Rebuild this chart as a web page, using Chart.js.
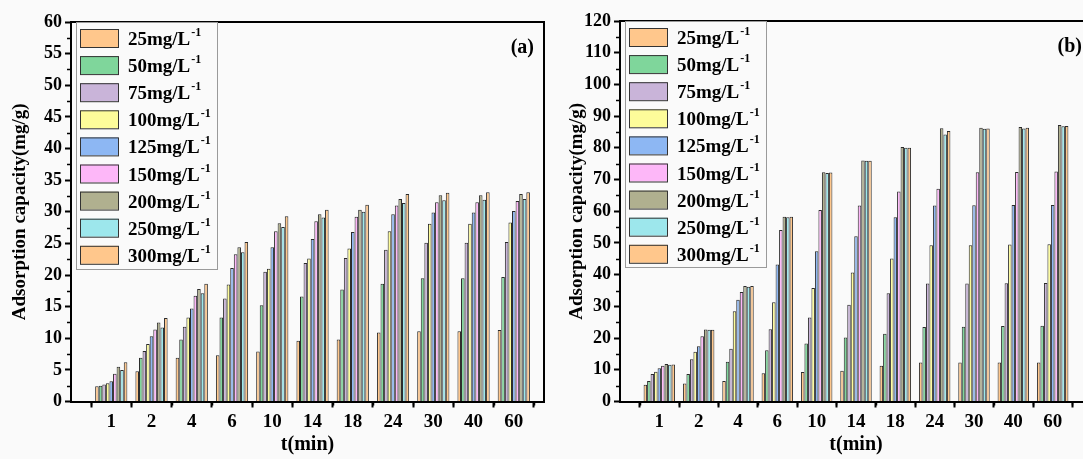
<!DOCTYPE html>
<html>
<head>
<meta charset="utf-8">
<script src="https://cdn.jsdelivr.net/npm/chart.js@4.4.1/dist/chart.umd.min.js"></script>
<style>
  html, body { margin: 0; padding: 0; background: #fafafa; }
  body { width: 1083px; height: 459px; overflow: hidden; position: relative; }
  canvas { position: absolute; top: 0; }
  #chartA { left: 0; }
  #chartB { left: 555px; }
</style>
</head>
<body>
<canvas id="chartA" width="560" height="459"></canvas>
<canvas id="chartB" width="560" height="459"></canvas>
<script>
// contact time (min) - categories on the x axis
const times = ["1", "2", "4", "6", "10", "14", "18", "24", "30", "40", "60"];
const concLabels = ["25mg/L", "50mg/L", "75mg/L", "100mg/L", "125mg/L", "150mg/L", "200mg/L", "250mg/L", "300mg/L"];
const colors = ["#ffc78c", "#7fd69b", "#c9b4d9", "#fdfc9a", "#8db7f3", "#fdb7f8", "#b0b08f", "#9de7ec", "#ffc78c"];

// panel (a), adsorption capacity mg/g
const a25  = [2.4, 4.8, 6.9, 7.3, 7.9, 9.6, 9.8, 10.9, 11.1, 11.1, 11.3];
const a50  = [2.5, 6.9, 9.8, 13.3, 15.2, 16.6, 17.7, 18.6, 19.5, 19.5, 19.7];
const a75  = [2.7, 8.0, 11.8, 16.3, 20.5, 21.9, 22.7, 24.0, 25.1, 25.1, 25.2];
const a100 = [2.9, 9.1, 13.3, 18.5, 21.0, 22.6, 24.2, 26.9, 28.1, 28.1, 28.3];
const a125 = [3.2, 10.3, 14.7, 21.1, 24.4, 25.7, 26.8, 29.6, 29.9, 29.9, 30.1];
const a150 = [4.4, 11.4, 16.7, 23.3, 26.9, 28.5, 29.2, 31.0, 31.5, 31.5, 31.7];
const a200 = [5.5, 12.5, 17.8, 24.4, 28.2, 29.6, 30.3, 32.0, 32.6, 32.6, 32.8];
const a250 = [5.0, 11.7, 17.1, 23.6, 27.6, 29.1, 30.0, 31.4, 31.8, 31.9, 32.0];
const a300 = [6.2, 13.2, 18.6, 25.2, 29.3, 30.3, 31.1, 32.8, 33.0, 33.1, 33.1];

// panel (b)
const b25  = [5.3, 5.7, 6.5, 8.9, 9.3, 9.7, 11.3, 12.3, 12.3, 12.3, 12.3];
const b50  = [6.5, 8.7, 12.5, 16.2, 18.3, 20.2, 21.4, 23.5, 23.6, 23.8, 23.9];
const b75  = [8.7, 13.3, 16.6, 22.8, 26.5, 30.5, 34.1, 37.2, 37.2, 37.3, 37.4];
const b100 = [9.4, 15.7, 28.5, 31.3, 35.8, 40.7, 45.1, 49.3, 49.3, 49.5, 49.6];
const b125 = [10.5, 17.4, 32.1, 43.2, 47.4, 52.1, 58.1, 61.8, 61.9, 62.0, 62.0];
const b150 = [11.3, 20.6, 34.5, 54.1, 60.4, 61.8, 66.2, 67.1, 72.3, 72.4, 72.5];
const b200 = [11.8, 22.7, 36.4, 58.3, 72.3, 76.0, 80.3, 86.2, 86.3, 86.6, 87.2];
const b250 = [11.6, 22.6, 36.2, 58.1, 72.1, 75.9, 80.0, 84.2, 86.0, 86.1, 86.8];
const b300 = [11.7, 22.6, 36.4, 58.3, 72.2, 75.9, 80.0, 85.3, 86.1, 86.3, 86.9];

const FONT = "'Liberation Serif', 'Times New Roman', serif";

// frame, minor ticks, legend box and panel tag
const decor = {
  id: "decor",
  afterDraw(chart, args, opts) {
    const ctx = chart.ctx;
    const ca = chart.chartArea;
    const xs = chart.scales.x, ys = chart.scales.y;
    ctx.save();
    ctx.strokeStyle = "#000";
    ctx.lineWidth = 2;
    ctx.beginPath();
    ctx.moveTo(ca.left, ca.top);
    ctx.lineTo(ca.right, ca.top);
    ctx.lineTo(ca.right, ca.bottom);
    ctx.stroke();

    // minor ticks
    ctx.lineWidth = 1.5;
    ctx.beginPath();
    for (let v = opts.yStep / 2; v < ys.max; v += opts.yStep) {
      const y = Math.round(ys.getPixelForValue(v)) + 0.5;
      ctx.moveTo(ca.left - 4, y);
      ctx.lineTo(ca.left, y);
    }
    for (let v = 0.5; v < xs.max; v += 1) {
      const x = Math.round(xs.getPixelForValue(v)) + 0.5;
      ctx.moveTo(x, ca.bottom);
      ctx.lineTo(x, ca.bottom + 4);
    }
    ctx.stroke();

    // legend
    const bx = ca.left + 5, by = ca.top;
    ctx.fillStyle = "#fafafa";
    ctx.fillRect(bx, by, 141, opts.legendH);
    ctx.strokeStyle = "#9a9a9a";
    ctx.lineWidth = 1;
    ctx.strokeRect(bx + 0.5, by + 0.5, 141, opts.legendH);
    chart.data.datasets.forEach((ds, i) => {
      const sy = by + 7 + i * 27.1;
      ctx.fillStyle = ds.backgroundColor;
      ctx.fillRect(bx + 4, sy, 38, 18);
      ctx.strokeStyle = "#333";
      ctx.strokeRect(bx + 4.5, sy + 0.5, 38, 18);
      ctx.fillStyle = "#000";
      ctx.textBaseline = "alphabetic";
      ctx.textAlign = "left";
      ctx.font = "bold 19px " + FONT;
      ctx.fillText(ds.label, bx + 52, sy + 16);
      const w = ctx.measureText(ds.label).width;
      ctx.font = "bold 12px " + FONT;
      ctx.fillText("-1", bx + 52 + w + 1, sy + 7);
    });

    ctx.font = "bold 20px " + FONT;
    ctx.textAlign = "right";
    ctx.textBaseline = "middle";
    ctx.fillStyle = "#000";
    ctx.fillText(opts.tag, ca.right - opts.tagInset, ca.top + 26);
    ctx.restore();
  }
};

function makePanel(id, series, yMax, yStep, xMax, axisW, pad, titlePad, tag, tagInset, legendH) {
  const datasets = series.map((vals, i) => ({
    label: concLabels[i],
    data: vals.map((v, j) => ({ x: j + 1, y: v })),
    backgroundColor: colors[i],
    borderColor: "#2a2a2a",
    borderWidth: 1,
    categoryPercentage: 0.8,
    barPercentage: 1.0
  }));

  return new Chart(document.getElementById(id), {
    type: "bar",
    data: { datasets },
    plugins: [decor],
    options: {
      responsive: false,
      animation: false,
      layout: { padding: pad },
      plugins: {
        legend: { display: false },
        tooltip: { enabled: false },
        decor: { yStep, tag, tagInset, legendH }
      },
      scales: {
        x: {
          type: "linear",
          min: 0,
          max: xMax,
          offset: false,
          afterBuildTicks: s => { s.ticks = times.map((t, i) => ({ value: i + 1 })); },
          afterFit: s => { s.height = 57.5; },
          ticks: {
            callback: v => times[v - 1],
            color: "#000",
            padding: 3,
            maxRotation: 0,
            autoSkip: false,
            font: { family: FONT, size: 19, weight: "bold" }
          },
          grid: { drawOnChartArea: false, tickLength: 6, tickColor: "#000", tickWidth: 2 },
          border: { color: "#000", width: 2 },
          title: {
            display: true,
            text: "t(min)",
            color: "#000",
            padding: { top: 0, bottom: 2 },
            font: { family: FONT, size: 20, weight: "bold" }
          }
        },
        y: {
          min: 0,
          max: yMax,
          afterFit: s => { s.width = axisW; },
          ticks: {
            stepSize: yStep,
            color: "#000",
            padding: 3,
            font: { family: FONT, size: 18, weight: "bold" }
          },
          grid: { drawOnChartArea: false, tickLength: 6, tickColor: "#000", tickWidth: 2 },
          border: { color: "#000", width: 2 },
          title: {
            display: true,
            text: "Adsorption capacity(mg/g)",
            color: "#000",
            padding: { top: titlePad, bottom: 0 },
            font: { family: FONT, size: 19, weight: "bold" }
          }
        }
      }
    }
  });
}

makePanel("chartA", [a25, a50, a75, a100, a125, a150, a200, a250, a300],
  60, 5, 11.75, 71, { left: 0, top: 22, right: 16, bottom: 0 }, 8.6, "(a)", 10, 247);
makePanel("chartB", [b25, b50, b75, b100, b125, b150, b200, b250, b300],
  120, 10, 12, 65, { left: 0, top: 21, right: 23, bottom: 0 }, 10.6, "(b)", 10, 246);
</script>
</body>
</html>
